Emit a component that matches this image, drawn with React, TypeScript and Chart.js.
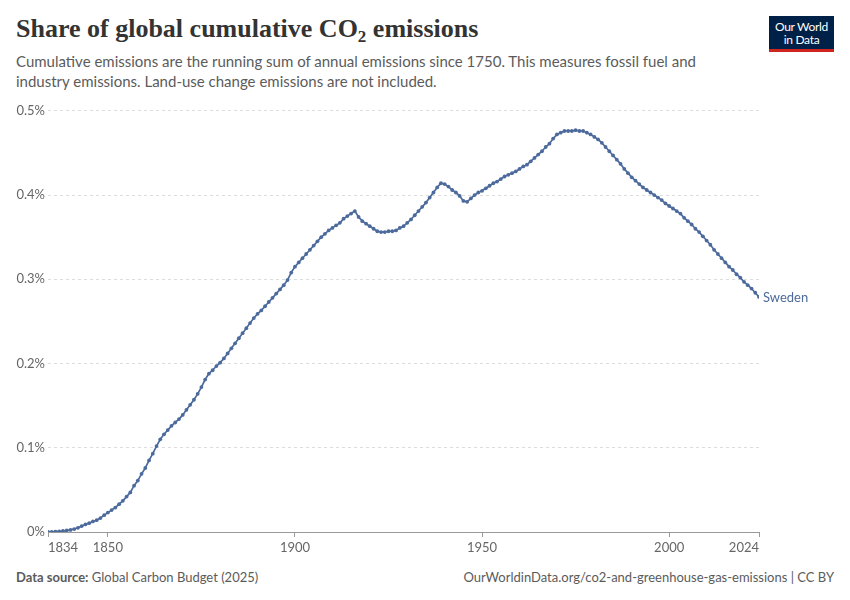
import React, { useEffect, useRef } from "react";
import { Chart, registerables } from "chart.js";

Chart.register(...registerables);

const startYear = 1834;
const seriesName = "Sweden";
// Share of global cumulative CO2 emissions (%), one value per year from 1834 to 2024
const shares1830s = [0.0, 0.0002, 0.0005, 0.0008, 0.0012, 0.0018];
const shares1840s = [0.0025, 0.0035, 0.005, 0.007, 0.009, 0.0105, 0.0125, 0.014, 0.0165, 0.02];
const shares1850s = [0.023, 0.026, 0.029, 0.033, 0.037, 0.042, 0.047, 0.055, 0.061, 0.069];
const shares1860s = [0.076, 0.085, 0.093, 0.102, 0.11, 0.116, 0.121, 0.126, 0.13, 0.134];
const shares1870s = [0.139, 0.145, 0.151, 0.157, 0.164, 0.172, 0.181, 0.188, 0.192, 0.197];
const shares1880s = [0.201, 0.206, 0.212, 0.218, 0.224, 0.23, 0.236, 0.242, 0.248, 0.254];
const shares1890s = [0.259, 0.263, 0.268, 0.273, 0.278, 0.283, 0.288, 0.293, 0.299, 0.308];
const shares1900s = [0.315, 0.32, 0.325, 0.33, 0.335, 0.34, 0.345, 0.35, 0.354, 0.358];
const shares1910s = [0.361, 0.364, 0.367, 0.372, 0.375, 0.378, 0.381, 0.374, 0.369, 0.366];
const shares1920s = [0.363, 0.36, 0.357, 0.356, 0.356, 0.357, 0.357, 0.358, 0.361, 0.363];
const shares1930s = [0.367, 0.371, 0.376, 0.381, 0.386, 0.391, 0.397, 0.403, 0.409, 0.414];
const shares1940s = [0.413, 0.41, 0.406, 0.403, 0.399, 0.393, 0.392, 0.396, 0.4, 0.403];
const shares1950s = [0.405, 0.408, 0.411, 0.414, 0.416, 0.419, 0.422, 0.424, 0.426, 0.428];
const shares1960s = [0.431, 0.434, 0.436, 0.44, 0.444, 0.448, 0.452, 0.457, 0.461, 0.467];
const shares1970s = [0.472, 0.474, 0.476, 0.476, 0.476, 0.477, 0.476, 0.476, 0.474, 0.472];
const shares1980s = [0.469, 0.466, 0.462, 0.457, 0.452, 0.447, 0.442, 0.437, 0.431, 0.426];
const shares1990s = [0.421, 0.417, 0.413, 0.409, 0.406, 0.403, 0.4, 0.397, 0.394, 0.39];
const shares2000s = [0.387, 0.384, 0.381, 0.378, 0.373, 0.369, 0.365, 0.36, 0.356, 0.351];
const shares2010s = [0.346, 0.341, 0.335, 0.33, 0.325, 0.32, 0.315, 0.311, 0.306, 0.302];
const shares2020s = [0.297, 0.293, 0.289, 0.284, 0.279];

const xTickYears = [1834, 1850, 1900, 1950, 2000, 2024];
const yTickValues = [0, 0.1, 0.2, 0.3, 0.4, 0.5];

const LINE_COLOR = "#4c6a9c";
const FONT = "Lato, 'Noto Sans', sans-serif";

export default function App() {
  const canvasRef = useRef<HTMLCanvasElement | null>(null);

  useEffect(() => {
    const shares = [
      ...shares1830s, ...shares1840s, ...shares1850s, ...shares1860s, ...shares1870s,
      ...shares1880s, ...shares1890s, ...shares1900s, ...shares1910s, ...shares1920s,
      ...shares1930s, ...shares1940s, ...shares1950s, ...shares1960s, ...shares1970s,
      ...shares1980s, ...shares1990s, ...shares2000s, ...shares2010s, ...shares2020s,
    ];
    const points = shares.map((v, i) => ({ x: startYear + i, y: v }));
    const endYear = startYear + shares.length - 1;

    const endLabel = {
      id: "endLabel",
      afterDatasetsDraw(chart: any) {
        const meta = chart.getDatasetMeta(0);
        const last = meta.data[meta.data.length - 1];
        if (!last) return;
        const ctx = chart.ctx;
        ctx.save();
        ctx.font = `13px ${FONT}`;
        ctx.fillStyle = LINE_COLOR;
        ctx.textAlign = "left";
        ctx.textBaseline = "middle";
        ctx.fillText(seriesName, last.x + 4, last.y + 1);
        ctx.restore();
      },
    };

    const chart = new Chart(canvasRef.current as HTMLCanvasElement, {
      type: "line",
      data: {
        datasets: [
          {
            label: seriesName,
            data: points,
            borderColor: LINE_COLOR,
            backgroundColor: LINE_COLOR,
            borderWidth: 1.7,
            pointRadius: 1.9,
            pointBorderWidth: 0,
            pointBackgroundColor: LINE_COLOR,
            tension: 0,
          },
        ],
      },
      options: {
        animation: false,
        responsive: false,
        maintainAspectRatio: false,
        layout: { padding: { top: 10, right: 91, left: 0, bottom: 0 } },
        plugins: { legend: { display: false }, tooltip: { enabled: false } },
        scales: {
          x: {
            type: "linear",
            min: startYear,
            max: endYear,
            afterBuildTicks(scale: any) {
              scale.ticks = xTickYears.map((v) => ({ value: v }));
            },
            afterFit(scale: any) {
              scale.height = 28;
            },
            ticks: {
              font: { family: FONT, size: 13 },
              color: "#666",
              align: "inner",
              padding: 3,
              maxRotation: 0,
              callback: (v: any) => String(v),
            },
            grid: {
              drawOnChartArea: false,
              drawTicks: true,
              tickLength: 5,
              color: "#999",
            },
            border: { display: true, color: "#999", width: 1 },
          },
          y: {
            min: 0,
            max: 0.5,
            afterBuildTicks(scale: any) {
              scale.ticks = yTickValues.map((v) => ({ value: v }));
            },
            afterFit(scale: any) {
              scale.width = 48;
            },
            ticks: {
              font: { family: FONT, size: 13 },
              color: "#666",
              padding: 3,
              callback: (v: any) => (v === 0 ? "0%" : `${Number(v).toFixed(1)}%`),
            },
            grid: {
              drawTicks: false,
              color: "#dcdcdc",
              lineWidth: 1,
            },
            border: { display: false, dash: [3, 3] },
          },
        },
      },
      plugins: [endLabel],
    } as any);
    return () => chart.destroy();
  }, []);

  return (
    <div
      style={{
        position: "fixed",
        left: 0,
        top: 0,
        width: 850,
        height: 600,
        background: "#fff",
        fontFamily: FONT,
        overflow: "hidden",
      }}
    >
      <div
        style={{
          position: "absolute",
          left: 16,
          top: 12,
          fontFamily: "'Liberation Serif', 'DejaVu Serif', serif",
          fontSize: 26,
          fontWeight: 700,
          color: "#333",
          whiteSpace: "nowrap",
          lineHeight: "34px",
        }}
      >
        Share of global cumulative CO
        <span style={{ fontSize: 17, position: "relative", top: 5 }}>2</span> emissions
      </div>
      <div
        style={{
          position: "absolute",
          left: 16,
          top: 51,
          width: 700,
          fontSize: 15,
          color: "#5b5b5b",
          lineHeight: "20px",
        }}
      >
        Cumulative emissions are the running sum of annual emissions since 1750. This measures fossil fuel and
        industry emissions. Land-use change emissions are not included.
      </div>
      <div
        style={{
          position: "absolute",
          left: 769,
          top: 16,
          width: 65,
          height: 36,
          background: "#002147",
          borderBottom: "3px solid #ce261e",
          color: "#fff",
          fontSize: 12,
          lineHeight: "13px",
          textAlign: "center",
          paddingTop: 4,
          boxSizing: "border-box",
          letterSpacing: -0.3,
        }}
      >
        Our World
        <br />
        in Data
      </div>
      <canvas
        ref={canvasRef}
        width={850}
        height={460}
        style={{ position: "absolute", left: 0, top: 100, width: 850, height: 460 }}
      />
      <div style={{ position: "absolute", left: 16, top: 569, fontSize: 13, color: "#5b5b5b" }}>
        <b style={{ fontWeight: 700 }}>Data source:</b> Global Carbon Budget (2025)
      </div>
      <div
        style={{
          position: "absolute",
          right: 16,
          top: 569,
          fontSize: 13,
          color: "#5b5b5b",
          whiteSpace: "nowrap",
        }}
      >
        OurWorldinData.org/co2-and-greenhouse-gas-emissions | CC BY
      </div>
    </div>
  );
}
